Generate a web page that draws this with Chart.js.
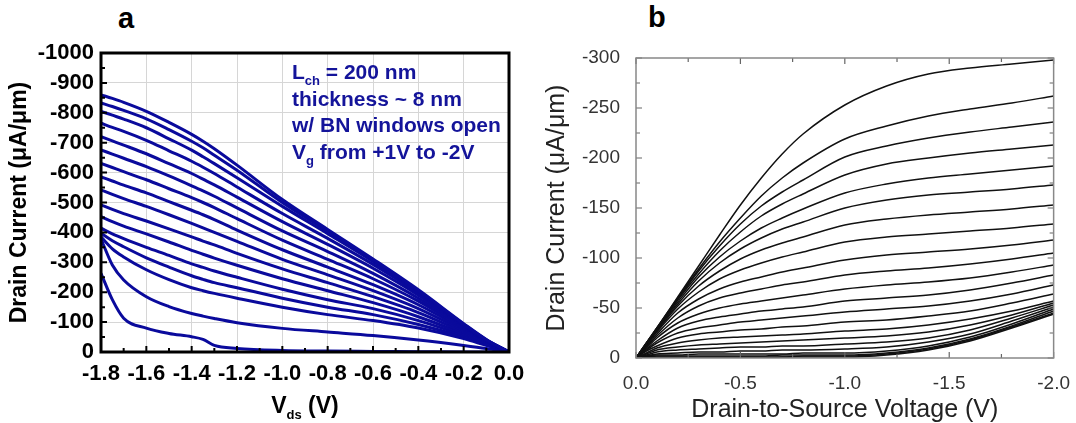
<!DOCTYPE html>
<html>
<head>
<meta charset="utf-8">
<script src="https://cdn.jsdelivr.net/npm/chart.js@4.4.0/dist/chart.umd.min.js"></script>
<style>
  body { margin: 0; width: 1076px; height: 423px; background: #fff; position: relative; overflow: hidden; font-family: 'Liberation Sans', Arial, sans-serif; }
  canvas { position: absolute; top: 0; }
  #cA { left: 0; }
  #cB { left: 540px; }
  .panel { position: absolute; font-weight: bold; font-size: 29px; line-height: 29px; color: #000; }
  #note { position: absolute; left: 292px; top: 59px; font-weight: bold; font-size: 21px; line-height: 26.7px; color: #14149a; white-space: nowrap; }
  #note sub, #xtA sub { font-size: 13px; line-height: 0; vertical-align: -6px; }
  #xtA { position: absolute; left: 0; width: 610px; text-align: center; top: 392px; font-weight: bold; font-size: 23px; line-height: 26px; color: #000; }
</style>
</head>
<body>
<div class="panel" style="left:118px; top:4px;">a</div>
<div class="panel" style="left:648px; top:3px;">b</div>
<canvas id="cA" width="540" height="423"></canvas>
<canvas id="cB" width="536" height="423"></canvas>
<div id="note">L<sub>ch</sub> = 200 nm<br>thickness ~ 8 nm<br>w/ BN windows open<br>V<sub>g</sub> from +1V to -2V</div>
<div id="xtA">V<sub>ds</sub> (V)</div>
<script>
// panel a: drain voltage (V) and drain current (uA/um), one row per gate voltage
const vdsA = [-1.8, -1.75, -1.7, -1.6, -1.5, -1.4, -1.35, -1.3, -1.2, -1.0, -0.8, -0.6, -0.4, -0.2, -0.1, 0];
const idA = [
  [-860, -848, -835, -805, -768, -728, -705, -680, -625, -510, -410, -311, -208, -95, -42, 0],
  [-833, -821, -808, -780, -744, -705, -683, -658, -608, -500, -404, -308, -205, -93, -41, 0],
  [-805, -792, -779, -750, -713, -675, -653, -630, -583, -487, -396, -303, -202, -91, -40, 0],
  [-765, -751, -738, -708, -673, -638, -618, -597, -552, -463, -380, -293, -197, -89, -39, 0],
  [-720, -706, -692, -663, -630, -597, -578, -559, -518, -436, -360, -280, -190, -87, -38, 0],
  [-676, -662, -648, -620, -589, -556, -539, -521, -482, -405, -336, -263, -180, -84, -37, 0],
  [-631, -617, -603, -576, -546, -516, -500, -483, -446, -374, -310, -245, -170, -80, -36, 0],
  [-586, -572, -558, -532, -503, -474, -459, -443, -408, -342, -284, -225, -158, -76, -34, 0],
  [-542, -527, -513, -487, -459, -430, -415, -400, -370, -310, -258, -205, -145, -71, -32, 0],
  [-492, -477, -463, -438, -412, -385, -371, -358, -330, -278, -232, -185, -132, -66, -30, 0],
  [-453, -436, -421, -395, -368, -340, -327, -314, -290, -245, -205, -165, -118, -60, -28, 0],
  [-414, -395, -379, -350, -323, -295, -283, -271, -250, -210, -175, -145, -105, -55, -26, 0],
  [-397, -372, -352, -315, -284, -255, -243, -232, -215, -180, -150, -125, -92, -50, -24, 0],
  [-385, -345, -318, -275, -242, -215, -205, -196, -180, -150, -125, -105, -80, -45, -22, 0],
  [-378, -291, -241, -185, -152, -129, -120, -112, -98, -79, -67, -55, -40, -22, -12, 0],
  [-263, -175, -113, -80, -62, -51, -42, -22, -12, -5, -3, -2, -1, 0, 0, 0]
];

// panel b
const vdsB = [0, -0.05, -0.1, -0.2, -0.3, -0.4, -0.5, -0.6, -0.7, -0.8, -1.0, -1.2, -1.4, -1.6, -1.8, -2.0];
const idB = [
  [0, -15, -30, -61, -92, -123, -153, -180, -204, -224, -253, -272, -284, -290, -294, -298],
  [0, -15, -30, -60, -89, -116, -140, -162, -180, -195, -219, -232, -242, -249, -255, -262],
  [0, -15, -30, -59, -87, -112, -134, -152, -166, -178, -201, -212, -220, -226, -231, -236],
  [0, -15, -29, -58, -84, -107, -126, -142, -154, -164, -183, -194, -200, -205, -209, -213],
  [0, -14, -29, -56, -81, -101, -117, -130, -140, -149, -165, -174, -180, -184, -188, -192],
  [0, -14, -28, -54, -77, -95, -109, -120, -129, -136, -150, -158, -163, -166, -169, -173],
  [0, -14, -27, -52, -72, -87, -99, -108, -115, -121, -133, -139, -143, -146, -149, -153],
  [0, -13, -26, -49, -66, -79, -88, -95, -101, -106, -116, -121, -124, -127, -130, -134],
  [0, -12, -24, -45, -59, -69, -76, -81, -86, -90, -98, -103, -106, -109, -113, -118],
  [0, -11, -22, -40, -52, -60, -65, -69, -73, -76, -83, -87, -90, -94, -99, -105],
  [0, -10, -20, -35, -44, -50, -54, -57, -60, -63, -69, -73, -76, -80, -86, -93],
  [0, -9, -17, -30, -37, -41, -44, -47, -49, -51, -57, -60, -63, -68, -75, -83],
  [0, -8, -15, -25, -30, -33, -36, -38, -40, -42, -46, -49, -52, -57, -64, -73],
  [0, -7, -12, -20, -24, -26, -28, -29, -31, -32, -36, -38, -42, -47, -55, -64],
  [0, -5, -10, -15, -18, -20, -21, -22, -23, -24, -27, -29, -33, -39, -47, -57],
  [0, -4, -8, -11, -13, -14, -15, -16, -17, -18, -20, -22, -26, -33, -43, -55],
  [0, -3, -6, -8, -9, -10, -11, -11, -12, -12, -14, -16, -20, -28, -40, -53],
  [0, -2, -4, -5, -6, -6, -7, -7, -8, -8, -9, -11, -16, -24, -37, -51],
  [0, -2, -3, -3, -4, -4, -4, -4, -4, -5, -5, -7, -12, -21, -34, -49],
  [0, -1, -2, -2, -2, -2, -2, -2, -3, -3, -3, -5, -10, -19, -32, -47],
  [0, -1, -1, -1, -1, -1, -1, -1, -1, -2, -2, -4, -9, -18, -31, -45],
  [0, 0, 0, 0, 0, 0, 0, 0, -1, -1, -1, -3, -8, -17, -30, -44]
];

// frame round the plot area plus inward tick marks
const framePlugin = {
  id: 'frame',
  afterDatasetsDraw(chart, args, o) {
    const ctx = chart.ctx, a = chart.chartArea;
    const xs = chart.scales.x, ys = chart.scales.y;
    ctx.save();
    ctx.strokeStyle = o.tickColor;
    ctx.lineWidth = o.tickWidth;
    ctx.beginPath();
    let n = Math.round((xs.max - xs.min) / o.xMinor);
    for (let i = 0; i <= n; i++) {
      const px = xs.getPixelForValue(xs.min + i * o.xMinor);
      const len = i % o.xEvery === 0 ? o.major : o.minor;
      if (o.sides.includes('bottom')) { ctx.moveTo(px, a.bottom); ctx.lineTo(px, a.bottom - len); }
      if (o.sides.includes('top')) { ctx.moveTo(px, a.top); ctx.lineTo(px, a.top + len); }
    }
    n = Math.round((ys.max - ys.min) / o.yMinor);
    for (let i = 0; i <= n; i++) {
      const py = ys.getPixelForValue(ys.min + i * o.yMinor);
      const len = i % o.yEvery === 0 ? o.major : o.minor;
      if (o.sides.includes('left')) { ctx.moveTo(a.left, py); ctx.lineTo(a.left + len, py); }
      if (o.sides.includes('right')) { ctx.moveTo(a.right, py); ctx.lineTo(a.right - len, py); }
    }
    ctx.stroke();
    ctx.strokeStyle = o.color;
    ctx.lineWidth = o.width;
    ctx.strokeRect(a.left, a.top, a.right - a.left, a.bottom - a.top);
    ctx.restore();
  }
};

function fmt1(v) {
  return Math.abs(v) < 1e-9 ? '0.0' : v.toFixed(1);
}

const blue = '#0a0a9c';

new Chart(document.getElementById('cA'), {
  type: 'line',
  data: {
    datasets: idA.map(row => ({
      data: row.map((y, i) => ({ x: vdsA[i], y: y })),
      borderColor: blue,
      borderWidth: 3,
      pointRadius: 0,
      cubicInterpolationMode: 'monotone',
      fill: false
    }))
  },
  options: {
    responsive: false,
    animation: false,
    layout: { padding: { top: 53, right: 31, left: 0, bottom: 0 } },
    plugins: {
      legend: { display: false },
      tooltip: { enabled: false },
      frame: { color: '#000', width: 3, tickColor: '#000', tickWidth: 2, major: 6, minor: 4,
               xMinor: 0.1, xEvery: 2, yMinor: 50, yEvery: 2, sides: ['left', 'bottom'] }
    },
    scales: {
      x: {
        type: 'linear', min: -1.8, max: 0,
        ticks: { stepSize: 0.2, callback: fmt1, color: '#000', padding: 9, maxRotation: 0, autoSkip: false,
                 font: { family: 'Liberation Sans', size: 22, weight: 'bold' } },
        grid: { color: '#d6d6d6', lineWidth: 1, drawTicks: false },
        border: { display: false },
        afterFit: s => { s.height = 71; }
      },
      y: {
        type: 'linear', min: -1000, max: 0, reverse: true,
        ticks: { stepSize: 100, callback: v => String(v), color: '#000', padding: 7,
                 font: { family: 'Liberation Sans', size: 22, weight: 'bold' } },
        grid: { color: '#d6d6d6', lineWidth: 1, drawTicks: false },
        border: { display: false },
        title: { display: true, text: 'Drain Current (μA/μm)', color: '#000', padding: { top: 6, bottom: 0 },
                 font: { family: 'Liberation Sans', size: 23, weight: 'bold' } },
        afterFit: s => { s.width = 101; }
      }
    }
  },
  plugins: [framePlugin]
});

new Chart(document.getElementById('cB'), {
  type: 'line',
  data: {
    datasets: idB.map(row => ({
      data: row.map((y, i) => ({ x: vdsB[i], y: y })),
      borderColor: '#111',
      borderWidth: 1.5,
      pointRadius: 0,
      cubicInterpolationMode: 'monotone',
      fill: false
    }))
  },
  options: {
    responsive: false,
    animation: false,
    layout: { padding: { top: 58, right: 19, left: 0, bottom: 0 } },
    plugins: {
      legend: { display: false },
      tooltip: { enabled: false },
      frame: { color: '#888', width: 1.5, tickColor: '#666', tickWidth: 1.2, major: 6, minor: 4,
               xMinor: 0.25, xEvery: 2, yMinor: 25, yEvery: 2, sides: ['left', 'bottom', 'top', 'right'] }
    },
    scales: {
      x: {
        type: 'linear', min: -2, max: 0, reverse: true,
        ticks: { stepSize: 0.5, callback: fmt1, color: '#333', padding: 6, maxRotation: 0, autoSkip: false,
                 font: { family: 'Liberation Sans', size: 19 } },
        grid: { display: false },
        border: { display: false },
        title: { display: true, text: 'Drain-to-Source Voltage (V)', color: '#222', padding: { top: 0, bottom: 0 },
                 font: { family: 'Liberation Sans', size: 25, lineHeight: 1 } },
        afterFit: s => { s.height = 65; }
      },
      y: {
        type: 'linear', min: -300, max: 0, reverse: true,
        ticks: { stepSize: 50, callback: v => String(v), color: '#333', padding: 8,
                 font: { family: 'Liberation Sans', size: 19 } },
        grid: { display: false },
        border: { display: false },
        title: { display: true, text: 'Drain Current (μA/μm)', color: '#222', padding: { top: 2, bottom: 0 },
                 font: { family: 'Liberation Sans', size: 25 } },
        afterFit: s => { s.width = 96; }
      }
    }
  },
  plugins: [framePlugin]
});
</script>
</body>
</html>
